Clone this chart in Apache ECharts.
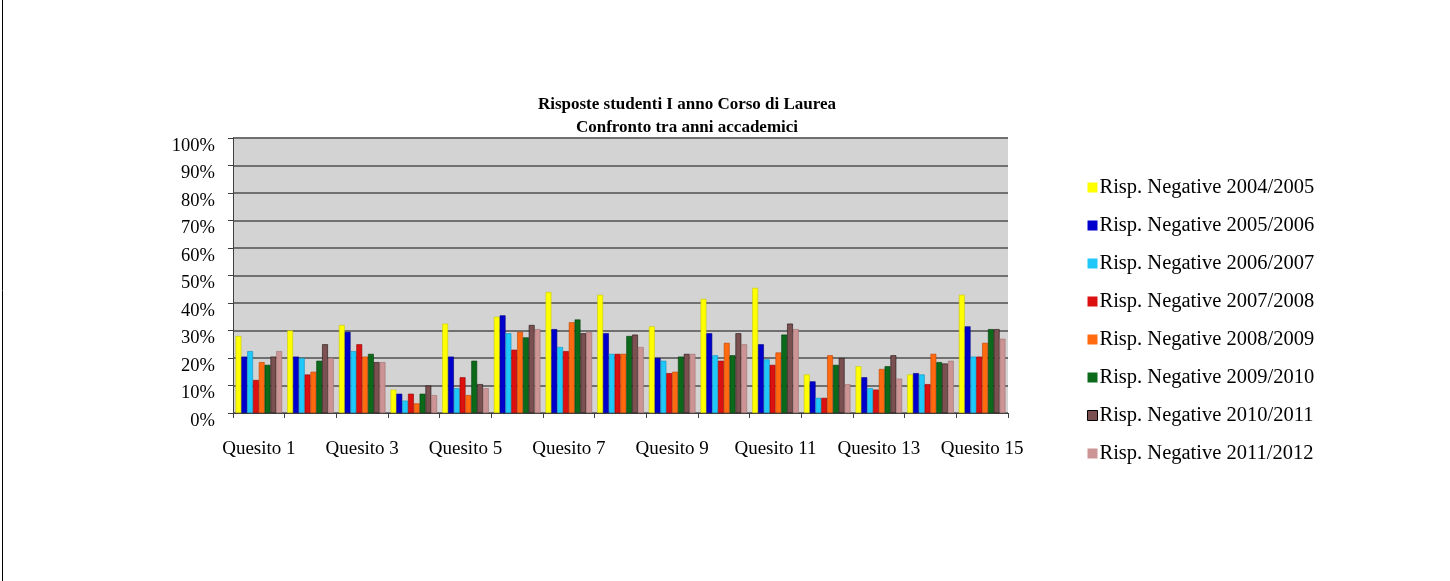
<!DOCTYPE html>
<html><head><meta charset="utf-8">
<script src="https://cdn.jsdelivr.net/npm/echarts@6/dist/echarts.min.js"></script>
<style>html,body{margin:0;padding:0;background:#fff}#c{width:1450px;height:581px}</style>
</head><body><div id="c"></div>
<script>
const categories = ['Quesito 1','Quesito 2','Quesito 3','Quesito 4','Quesito 5','Quesito 6','Quesito 7','Quesito 8','Quesito 9','Quesito 10','Quesito 11','Quesito 12','Quesito 13','Quesito 14','Quesito 15'];
const seriesNames = ['Risp. Negative 2004/2005','Risp. Negative 2005/2006','Risp. Negative 2006/2007','Risp. Negative 2007/2008','Risp. Negative 2008/2009','Risp. Negative 2009/2010','Risp. Negative 2010/2011','Risp. Negative 2011/2012'];
const yTickLabels = ['0%','10%','20%','30%','40%','50%','60%','70%','80%','90%','100%'];
const s0405 = [28,30,32,8.5,32.5,35,44,43,31.5,41.5,45.5,14,17,14,43];
const s0506 = [20.5,20.5,29.5,7,20.5,35.5,30.5,29,20,29,25,11.5,13,14.5,31.5];
const s0607 = [22.5,20,22.5,4.5,9,29,24,21.5,19,21,19.5,5.5,9,14,20.5];
const s0708 = [12,14,25,7,13,23,22.5,21.5,14.5,19,17.5,5.5,8.5,10.5,20.5];
const s0809 = [18.5,15,20.5,3.5,6.5,29.5,33,21.5,15,25.5,22,21,16,21.5,25.5];
const s0910 = [17.5,19,21.5,7,19,27.5,34,28,20.5,21,28.5,17.5,17,18.5,30.5];
const s1011 = [20.5,25,18.5,10,10.5,32,29,28.5,21.5,29,32.5,20,21,18,30.5];
const s1112 = [22.5,20,18.5,6.5,9,30.5,29.5,24,21.5,25,30.5,10.5,12.5,19,27];
const seriesData = [s0405,s0506,s0607,s0708,s0809,s0910,s1011,s1112];
const colors = ['#FFFF00','#0000CC','#1FC8F8','#DD1010','#FF6A10','#0A6A1A','#7A5050','#CC9494'];
const borderCols = ['#C8C800','#000080','#1090C0','#900000','#C04000','#003A08','#201010','#A07070'];

const chart = echarts.init(document.getElementById('c'), null, {renderer:'canvas'});
const serif = '"Liberation Serif","DejaVu Serif",serif';
chart.setOption({
  animation:false,
  backgroundColor:'#fff',
  title:{
    text:'Risposte studenti I anno Corso di Laurea\nConfronto tra anni accademici',
    left:682, top:88, textAlign:'center',
    textStyle:{fontFamily:serif,fontSize:17,fontWeight:'bold',color:'#000',lineHeight:23}
  },
  legend:{
    orient:'vertical', left:1082, top:172, itemGap:17,
    itemWidth:10, itemHeight:10, icon:'rect',
    textStyle:{fontFamily:serif,fontSize:20.5,lineHeight:20,color:'#000',padding:[0,0,0,-3]},
    data:seriesNames.map((n,i)=>({name:n,itemStyle:{borderColor:i===6?'#000':colors[i],borderWidth:i===6?1:0}}))
  },
  grid:{left:233,top:138,width:775,height:275,backgroundColor:'#D3D3D3',show:true,borderWidth:0},
  xAxis:{
    type:'category', data:categories,
    axisLine:{lineStyle:{color:'#404040',width:1}},
    axisTick:{show:true,alignWithLabel:false,interval:0,length:5,lineStyle:{color:'#404040'}},
    axisLabel:{interval:1,fontFamily:serif,fontSize:19,color:'#000',margin:27}
  },
  yAxis:{
    type:'value', min:0, max:100, interval:10,
    axisLine:{show:true,lineStyle:{color:'#404040',width:1}},
    axisTick:{show:true,length:5,lineStyle:{color:'#404040'}},
    splitLine:{lineStyle:{color:'#707070',width:2}},
    axisLabel:{fontFamily:serif,fontSize:18.5,color:'#000',margin:18,verticalAlign:'top',lineHeight:16,formatter:(v)=>yTickLabels[Math.round(v/10)]}
  },
  series:seriesData.map((d,i)=>({
    name:seriesNames[i], type:'bar', data:d,
    barGap:'0%', barCategoryGap:'10%',
    itemStyle:{color:colors[i],borderColor:borderCols[i],borderWidth:0.6}
  })),
  graphic:[{type:'line',shape:{x1:2.5,y1:0,x2:2.5,y2:581},style:{stroke:'#000',lineWidth:1}}]
});
</script></body></html>
